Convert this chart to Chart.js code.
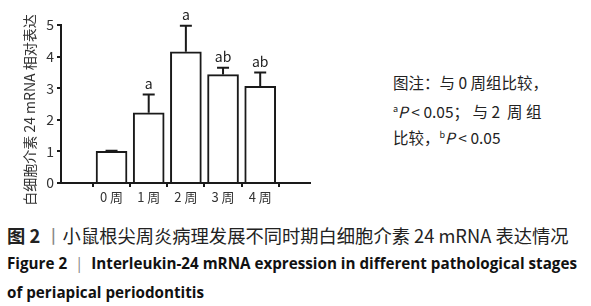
<!DOCTYPE html>
<html>
<head>
<meta charset="utf-8">
<script src="https://cdn.jsdelivr.net/npm/chart.js@4.4.0/dist/chart.umd.min.js"></script>
<style>
  html, body { margin: 0; padding: 0; background: #fff; }
  body { width: 591px; height: 306px; position: relative; overflow: hidden; font-family: "Noto Sans CJK SC", sans-serif; color: #222; }
  #wrap { position: absolute; left: 0; top: 0; width: 330px; height: 215px; }
  .txt { position: absolute; white-space: nowrap; }
  .note { left: 393px; font-size: 15.5px; line-height: 18px; color: #222; }
  .note sup { font-size: 9px; vertical-align: 6px; }
  .cap1 { left: 7px; top: 224px; font-size: 18.3px; line-height: 22px; color: #222; }
  .cap2 { left: 7px; font-size: 16.5px; line-height: 20px; font-weight: bold; color: #111; font-family: "Open Sans", sans-serif; transform-origin: left center; }
  .sep { font-weight: normal; color: #888; }
</style>
</head>
<body>
<div id="wrap"><canvas id="chart" width="330" height="215"></canvas></div>

<div class="txt note" style="top:73px">图注：与 0 周组比较，</div>
<div class="txt note" style="top:100px"><sup>a</sup><i>P</i> &lt; 0.05；&nbsp;与 2&nbsp; 周&nbsp;组</div>
<div class="txt note" style="top:126px">比较，<sup>b</sup><i>P</i> &lt; 0.05</div>

<div class="txt cap1"><b>图 2</b> <span class="sep">丨</span>小鼠根尖周炎病理发展不同时期白细胞介素 24 mRNA 表达情况</div>
<div class="txt cap2" id="en1" style="top:253px">Figure 2&nbsp; <span class="sep">|</span>&nbsp; Interleukin-24 mRNA expression in different pathological stages</div>
<div class="txt cap2" id="en2" style="top:282px">of periapical periodontitis</div>

<script>
// chart data
const weeks = ['0 周', '1 周', '2 周', '3 周', '4 周'];
const means = [1.0, 2.22, 4.15, 3.43, 3.06];
const errs = [0.02, 0.58, 0.83, 0.22, 0.44];
const marks = ['', 'a', 'a', 'ab', 'ab'];
const yTicks = [0, 1, 2, 3, 4, 5];
const yTitle = '白细胞介素 24 mRNA 相对表达';

// squeeze english caption to the width of the original
const en1 = document.getElementById('en1');
const en2 = document.getElementById('en2');
const k = 570 / en1.getBoundingClientRect().width;
en1.style.transform = 'scaleX(' + k + ')';
en2.style.transform = 'scaleX(' + k + ')';

// error bars, significance letters, y title
const errorBars = {
  id: 'errorBars',
  afterDatasetsDraw(chart) {
    const ctx = chart.ctx;
    const y = chart.scales.y;
    const meta = chart.getDatasetMeta(0);
    ctx.save();
    ctx.strokeStyle = '#1a1a1a';
    ctx.lineWidth = 2;
    ctx.fillStyle = '#222';
    ctx.font = '14px "Noto Sans CJK SC", sans-serif';
    ctx.textAlign = 'center';
    ctx.textBaseline = 'middle';
    meta.data.forEach((bar, i) => {
      const top = y.getPixelForValue(means[i] + errs[i]);
      const base = y.getPixelForValue(means[i]);
      ctx.beginPath();
      ctx.moveTo(bar.x, base);
      ctx.lineTo(bar.x, top);
      ctx.moveTo(bar.x - 6, top);
      ctx.lineTo(bar.x + 6, top);
      ctx.stroke();
      if (marks[i]) ctx.fillText(marks[i], bar.x, top - 11);
    });
    // axis title, a bit lower than the chart area centre like the original
    ctx.fillStyle = '#333';
    ctx.translate(30, 110);
    ctx.rotate(-Math.PI / 2);
    ctx.fillText(yTitle, 0, 0);
    ctx.restore();
  }
};

new Chart(document.getElementById('chart'), {
  type: 'bar',
  data: {
    datasets: [{
      data: means.map((v, i) => ({ x: i, y: v })),
      backgroundColor: '#fff',
      borderColor: '#1a1a1a',
      borderWidth: 2,
      barThickness: 31
    }]
  },
  options: {
    responsive: false,
    animation: false,
    layout: { padding: { top: 25, right: 20, left: 0, bottom: 0 } },
    plugins: { legend: { display: false }, tooltip: { enabled: false } },
    scales: {
      x: {
        type: 'linear',
        min: -0.69,
        max: 4.67,
        afterBuildTicks: s => { s.ticks = weeks.map((w, i) => ({ value: i })); },
        afterFit: s => { s.height = 32; },
        grid: { display: true, drawOnChartArea: false, drawTicks: true, tickLength: 4, color: '#1a1a1a', lineWidth: 2 },
        border: { display: true, color: '#1a1a1a', width: 2 },
        ticks: {
          callback: v => weeks[v],
          color: '#333',
          padding: 2,
          font: { size: 13, family: '"Noto Sans CJK SC", sans-serif' }
        }
      },
      y: {
        min: 0,
        max: 5,
        afterBuildTicks: s => { s.ticks = yTicks.map(v => ({ value: v })); },
        afterFit: s => { s.width = 61; },
        grid: { display: true, drawOnChartArea: false, drawTicks: true, tickLength: 4, color: '#1a1a1a', lineWidth: 2 },
        border: { display: true, color: '#1a1a1a', width: 2 },
        ticks: {
          color: '#333',
          padding: 3,
          font: { size: 14, family: '"Noto Sans CJK SC", sans-serif' }
        }
      }
    }
  },
  plugins: [errorBars]
});
</script>
</body>
</html>
